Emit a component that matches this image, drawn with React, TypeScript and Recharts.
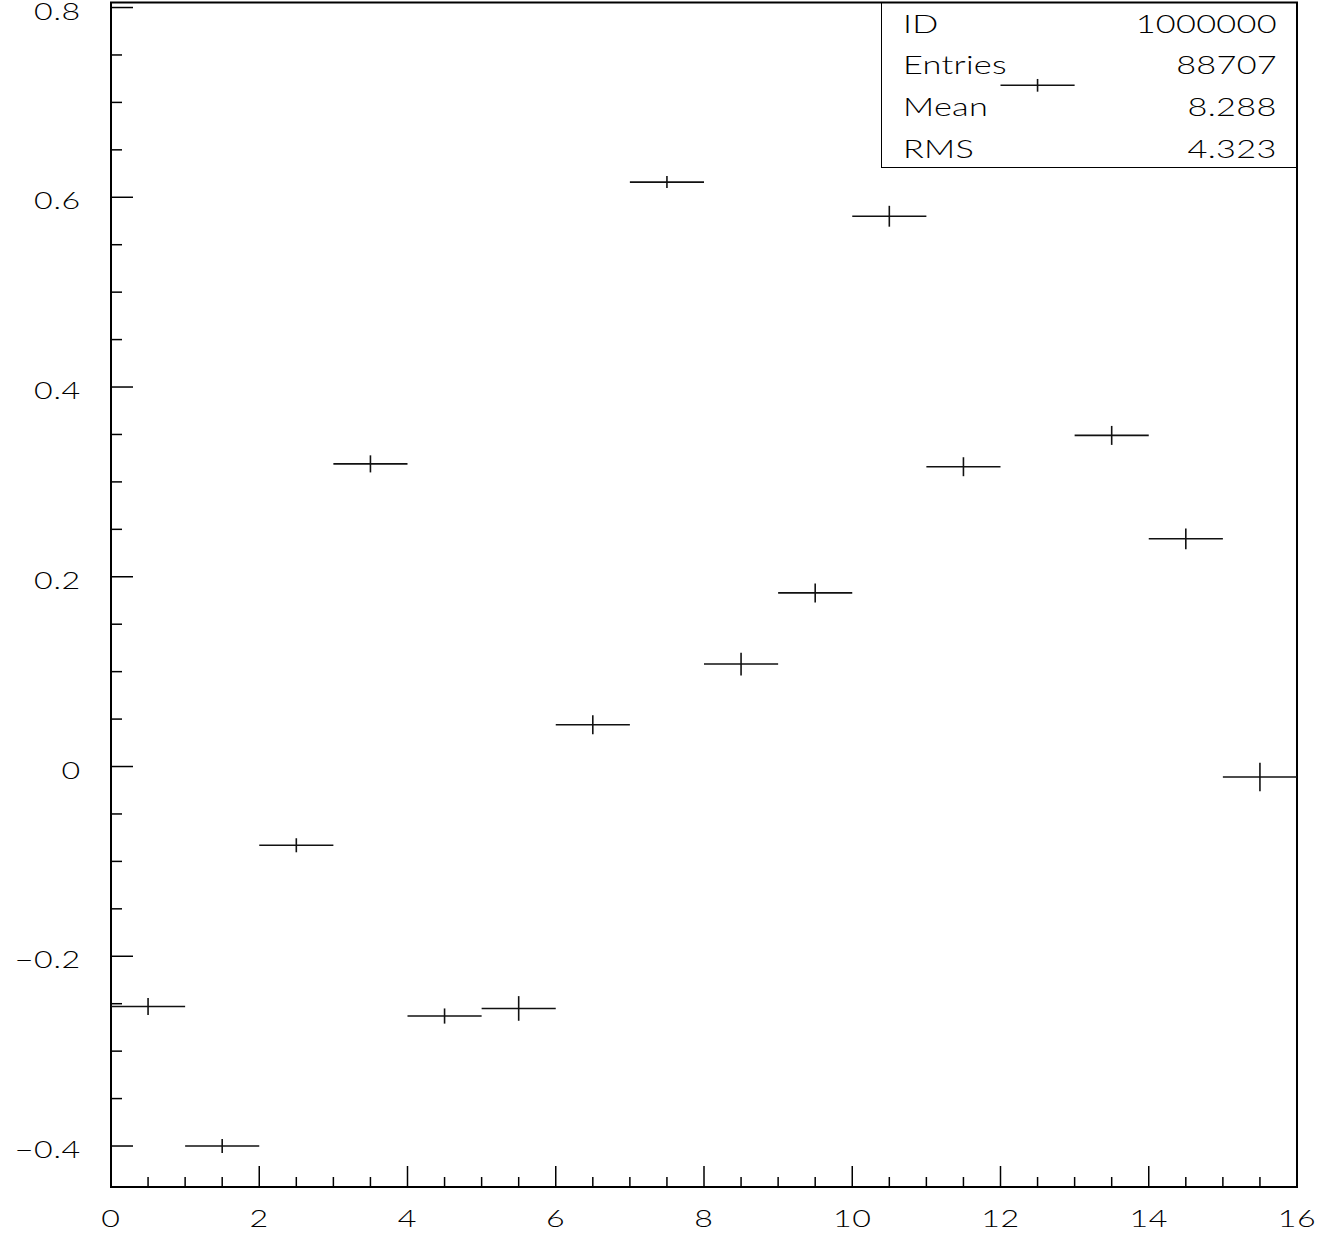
import * as React from 'react'
import {
	ComposedChart,
	Scatter,
	ErrorBar,
	XAxis,
	YAxis,
	ReferenceArea,
} from 'recharts'

// bin centres, contents and errors
const binCenters = [0.5, 1.5, 2.5, 3.5, 4.5, 5.5, 6.5, 7.5, 8.5, 9.5, 10.5, 11.5, 12.5, 13.5, 14.5, 15.5]
const binValues = [-0.253, -0.4, -0.083, 0.319, -0.263, -0.255, 0.044, 0.616, 0.108, 0.183, 0.58, 0.316, 0.718, 0.349, 0.24, -0.011]
const binErrors = [0.009, 0.0074, 0.0074, 0.009, 0.008, 0.013, 0.01, 0.0063, 0.012, 0.01, 0.011, 0.01, 0.0067, 0.01, 0.011, 0.015]
const binHalfWidth = 0.5

const xTicks = [0, 0.5, 1, 1.5, 2, 2.5, 3, 3.5, 4, 4.5, 5, 5.5, 6, 6.5, 7, 7.5, 8, 8.5, 9, 9.5, 10, 10.5, 11, 11.5, 12, 12.5, 13, 13.5, 14, 14.5, 15, 15.5, 16]
const xLabels = [0, 2, 4, 6, 8, 10, 12, 14, 16]
const yTicks = [-0.4, -0.35, -0.3, -0.25, -0.2, -0.15, -0.1, -0.05, 0, 0.05, 0.1, 0.15, 0.2, 0.25, 0.3, 0.35, 0.4, 0.45, 0.5, 0.55, 0.6, 0.65, 0.7, 0.75, 0.8]
const yLabels = [-0.4, -0.2, 0, 0.2, 0.4, 0.6, 0.8]

const statNames = ['ID', 'Entries', 'Mean', 'RMS']
const statValues = ['1000000', '88707', '8.288', '4.323']

const X_DOMAIN: [number, number] = [0, 16]
const Y_DOMAIN: [number, number] = [-0.4432, 0.8053]

// ROOT's stroke font is wide and thin: light Lato stretched sideways
const FONT = "Lato, 'DejaVu Sans', sans-serif"
const STRETCH = 1.4
const axisText = { fontFamily: FONT, fontWeight: 300, fontSize: 23, letterSpacing: 0.5 }
const statText = { fontFamily: FONT, fontWeight: 300, fontSize: 24.5, letterSpacing: 0.2 }

const points = binCenters.map((x, i) => ({
	x,
	y: binValues[i],
	xErr: binHalfWidth,
	yErr: binErrors[i],
}))

const isMajor = (v: number, list: number[]) => list.some((m) => Math.abs(m - v) < 1e-6)

const fmtY = (v: number) => {
	if (Math.abs(v) < 1e-9) return '0'
	const s = Math.abs(v).toFixed(1)
	return v < 0 ? '\u2212' + s : s
}

const XTick = (props: any) => {
	const { x, y, payload } = props
	const major = isMajor(payload.value, xLabels)
	return (
		<g>
			<line x1={x} x2={x} y1={y} y2={y - (major ? 21 : 10)} stroke="#000" strokeWidth={1.5} />
			{major && (
				<text
					transform={`translate(${x},${y + 40}) scale(${STRETCH},1)`}
					textAnchor="middle"
					fill="#000"
					style={axisText}
				>
					{payload.value}
				</text>
			)}
		</g>
	)
}

const YTick = (props: any) => {
	const { x, y, payload } = props
	const major = isMajor(payload.value, yLabels)
	return (
		<g>
			<line x1={x} x2={x + (major ? 22 : 11)} y1={y} y2={y} stroke="#000" strokeWidth={1.5} />
			{major && (
				<text
					transform={`translate(${x - 30},${y + 12}) scale(${STRETCH},1)`}
					textAnchor="end"
					fill="#000"
					style={axisText}
				>
					{fmtY(payload.value)}
				</text>
			)}
		</g>
	)
}

const StatsBox = () => (
	<div
		style={{
			position: 'absolute',
			left: 881,
			top: 2,
			width: 416,
			height: 166,
			boxSizing: 'border-box',
			border: '1.5px solid #000',
			pointerEvents: 'none',
		}}
	>
		{statNames.map((name, i) => (
			<div
				key={name}
				style={{
					position: 'absolute',
					left: 21,
					right: 19,
					top: 2 + i * 41.7,
					height: 36,
					display: 'flex',
					justifyContent: 'space-between',
					alignItems: 'center',
					...statText,
					color: '#000',
				}}
			>
				<span style={{ display: 'inline-block', transform: `scaleX(${STRETCH})`, transformOrigin: 'left center' }}>
					{name}
				</span>
				<span style={{ display: 'inline-block', transform: `scaleX(${STRETCH})`, transformOrigin: 'right center' }}>
					{statValues[i]}
				</span>
			</div>
		))}
	</div>
)

const App = (): JSX.Element => {
	return (
		<div style={{ position: 'absolute', left: 0, top: 0, width: 1326, height: 1233, background: '#fff' }}>
			<ComposedChart
				width={1326}
				height={1233}
				data={points}
				margin={{ top: 2.5, right: 29, left: 0, bottom: 0 }}
			>
				<XAxis
					type="number"
					dataKey="x"
					domain={X_DOMAIN}
					ticks={xTicks}
					interval={0}
					allowDataOverflow
					axisLine={false}
					tickLine={false}
					tickSize={0}
					tickMargin={0}
					height={46}
					tick={<XTick />}
				/>
				<YAxis
					type="number"
					dataKey="y"
					domain={Y_DOMAIN}
					ticks={yTicks}
					interval={0}
					allowDataOverflow
					axisLine={false}
					tickLine={false}
					tickSize={0}
					tickMargin={0}
					width={111}
					tick={<YTick />}
				/>
				<ReferenceArea
					x1={X_DOMAIN[0]}
					x2={X_DOMAIN[1]}
					y1={Y_DOMAIN[0]}
					y2={Y_DOMAIN[1]}
					fill="none"
					stroke="#000"
					strokeWidth={2}
					fillOpacity={0}
				/>
				<Scatter dataKey="y" shape={() => <g />} isAnimationActive={false}>
					<ErrorBar dataKey="xErr" direction="x" width={0} stroke="#111" strokeWidth={1.6} />
					<ErrorBar dataKey="yErr" direction="y" width={0} stroke="#111" strokeWidth={1.6} />
				</Scatter>
			</ComposedChart>
			<StatsBox />
		</div>
	)
}

export default App
